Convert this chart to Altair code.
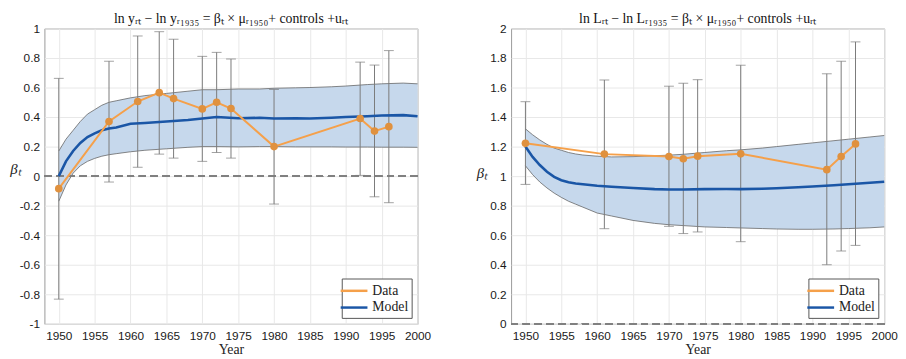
import altair as alt
import pandas as pd

# ---------------- Left panel (income) ----------------
years_data_L = [1950, 1957, 1961, 1964, 1966, 1970, 1972, 1974, 1980, 1992, 1994, 1996]
beta_L = [-0.085, 0.37, 0.505, 0.565, 0.525, 0.455, 0.50, 0.458, 0.20, 0.39, 0.305, 0.335]
upper_L = [0.662, 0.778, 0.949, 0.978, 0.927, 0.811, 0.838, 0.793, 0.587, 0.772, 0.752, 0.850]
lower_L = [-0.833, -0.040, 0.060, 0.149, 0.122, 0.100, 0.160, 0.122, -0.189, 0.005, -0.140, -0.180]

model_years = [1950, 1951, 1952, 1953, 1954, 1955, 1956, 1957, 1958, 1960, 1962, 1965, 1968,
               1970, 1972, 1975, 1978, 1980, 1983, 1985, 1988, 1990, 1993, 1995, 1998, 2000]
model_L = [0.0, 0.10, 0.17, 0.225, 0.265, 0.29, 0.31, 0.322, 0.33, 0.355, 0.36, 0.37, 0.38,
           0.39, 0.40, 0.392, 0.395, 0.39, 0.392, 0.39, 0.395, 0.40, 0.405, 0.41, 0.413, 0.405]
band_hi_L = [0.17, 0.25, 0.31, 0.37, 0.42, 0.45, 0.48, 0.50, 0.51, 0.53, 0.545, 0.56, 0.575,
             0.585, 0.585, 0.59, 0.59, 0.595, 0.598, 0.60, 0.605, 0.61, 0.62, 0.625, 0.63, 0.625]
band_lo_L = [-0.17, -0.06, 0.02, 0.07, 0.10, 0.12, 0.135, 0.145, 0.152, 0.165, 0.175, 0.185, 0.195,
             0.20, 0.20, 0.198, 0.20, 0.20, 0.198, 0.198, 0.198, 0.197, 0.197, 0.196, 0.196, 0.195]

# ---------------- Right panel (population) ----------------
years_data_R = [1950, 1961, 1970, 1972, 1974, 1980, 1992, 1994, 1996]
beta_R = [1.222, 1.149, 1.133, 1.118, 1.135, 1.151, 1.044, 1.133, 1.218]
upper_R = [1.504, 1.651, 1.609, 1.629, 1.653, 1.751, 1.693, 1.778, 1.909]
lower_R = [0.944, 0.644, 0.660, 0.611, 0.622, 0.556, 0.400, 0.493, 0.531]

model_R = [1.20, 1.13, 1.075, 1.03, 0.995, 0.972, 0.958, 0.95, 0.945, 0.935, 0.928, 0.92, 0.912,
           0.91, 0.91, 0.912, 0.913, 0.912, 0.915, 0.918, 0.925, 0.93, 0.938, 0.945, 0.955, 0.962]
band_hi_R = [1.32, 1.28, 1.245, 1.215, 1.19, 1.175, 1.16, 1.15, 1.143, 1.135, 1.13, 1.132, 1.138,
             1.142, 1.148, 1.16, 1.172, 1.178, 1.19, 1.20, 1.215, 1.225, 1.24, 1.25, 1.265, 1.275]
band_lo_R = [1.07, 1.01, 0.96, 0.92, 0.885, 0.856, 0.83, 0.81, 0.79, 0.75, 0.73, 0.70, 0.68,
             0.671, 0.665, 0.656, 0.652, 0.649, 0.645, 0.642, 0.64, 0.64, 0.642, 0.645, 0.65, 0.656]

x_ticks = [1950, 1955, 1960, 1965, 1970, 1975, 1980, 1985, 1990, 1995, 2000]
y_ticks_L = [-1, -0.8, -0.6, -0.4, -0.2, 0, 0.2, 0.4, 0.6, 0.8, 1]
y_ticks_R = [0, 0.2, 0.4, 0.6, 0.8, 1, 1.2, 1.4, 1.6, 1.8, 2]

title_L = "ln yᵣₜ − ln yᵣ₁₉₃₅ = βₜ × μᵣ₁₉₅₀+ controls +uᵣₜ"
title_R = "ln Lᵣₜ − ln Lᵣ₁₉₃₅ = βₜ × μᵣ₁₉₅₀+ controls +uᵣₜ"

ORANGE = "#F5A04A"
ORANGE_MK = "#E0913E"
BLUE = "#1A56A6"
BAND = "#C6D8EC"
GRAY = "#7A7A7A"

W, H = 379, 300


def panel(years_d, beta, up, lo, model, bhi, blo, ydom, yticks, title, beta_y):
    dm = pd.DataFrame({"year": model_years, "model": model, "hi": bhi, "lo": blo})
    dd = pd.DataFrame({"year": years_d, "beta": beta, "up": up, "low": lo})

    xs = alt.Scale(domain=[1948, 2000], nice=False, zero=False)
    ys = alt.Scale(domain=ydom, nice=False, zero=False)
    X = alt.X("year:Q", scale=xs,
              axis=alt.Axis(values=x_ticks, tickCount=20, format="d", title="Year",
                            labelOverlap=False, labelFlush=False))
    yaxis = alt.Axis(values=yticks, tickCount=20, title="βₜ", titleAngle=0, titleX=-30,
                     titleY=beta_y, titleAlign="center", titleBaseline="middle",
                     labelOverlap=False, labelFlush=False,
                     labelExpr="toString(round(datum.value*10)/10)")

    def Y(field):
        return alt.Y(field + ":Q", scale=ys, axis=yaxis)

    cscale = alt.Scale(domain=["Data", "Model"], range=[ORANGE, BLUE])
    legend = alt.Legend(title=None, orient="bottom-right", offset=6, fillColor="white",
                        strokeColor="#555", padding=3, symbolType="M-1.7,0H1.7",
                        symbolSize=256, symbolStrokeWidth=2.5, labelFont="Liberation Serif",
                        labelFontSize=14, labelColor="#222", rowPadding=0, labelOffset=9)
    C = alt.Color("series:N", scale=cscale, legend=legend)

    band = alt.Chart(dm).mark_area(color=BAND, opacity=1).encode(
        x=X, y=Y("lo"), y2="hi:Q")
    edge_hi = alt.Chart(dm).mark_line(color="#666", strokeWidth=0.8).encode(x=X, y=Y("hi"))
    edge_lo = alt.Chart(dm).mark_line(color="#666", strokeWidth=0.8).encode(x=X, y=Y("lo"))
    zero = alt.Chart(dm).mark_rule(color="#808080", strokeWidth=1.8, strokeDash=[7, 5]).encode(
        y=alt.datum(0))
    err = alt.Chart(dd).mark_rule(color=GRAY, strokeWidth=1).encode(x=X, y=Y("low"), y2="up:Q")
    cap_u = alt.Chart(dd).mark_tick(orient="horizontal", size=10, thickness=1, color=GRAY).encode(
        x=X, y=Y("up"))
    cap_l = alt.Chart(dd).mark_tick(orient="horizontal", size=10, thickness=1, color=GRAY).encode(
        x=X, y=Y("low"))
    mline = alt.Chart(dm).transform_calculate(series="'Model'").mark_line(strokeWidth=2.6).encode(
        x=X, y=Y("model"), color=C)
    dline = alt.Chart(dd).transform_calculate(series="'Data'").mark_line(strokeWidth=2).encode(
        x=X, y=Y("beta"), color=C)
    pts = alt.Chart(dd).mark_circle(size=60, color=ORANGE_MK, opacity=1).encode(x=X, y=Y("beta"))

    return alt.layer(band, edge_hi, edge_lo, zero, err, cap_u, cap_l, mline, dline, pts).properties(
        width=W, height=H, title=title)


left = panel(years_data_L, beta_L, upper_L, lower_L, model_L, band_hi_L, band_lo_L,
             [-1, 1], y_ticks_L, title_L, 142)
right = panel(years_data_R, beta_R, upper_R, lower_R, model_R, band_hi_R, band_lo_R,
              [0, 2], y_ticks_R, title_R, 146)

chart = alt.hconcat(left, right, spacing=44).resolve_scale(color="independent").resolve_legend(
    color="independent").properties(padding=0).configure_view(
    stroke="#999", strokeWidth=1).configure_axis(
    grid=True, gridColor="#E8E8E8", domain=False, ticks=False, labelFont="Liberation Sans",
    labelFontSize=12, labelColor="#1a1a1a", labelPadding=5,
    titleFont="Liberation Serif", titleFontWeight="normal", titleColor="#222").configure_axisX(
    labelPadding=7, titleFontSize=14, titlePadding=1).configure_axisY(
    titleFontSize=15, titleFontStyle="italic", labelOverlap=False).configure_title(
    font="Liberation Serif", fontSize=14, fontWeight="normal", offset=-3, color="#111")

chart.save("out.html", embed_options={"renderer": "svg", "actions": False})
